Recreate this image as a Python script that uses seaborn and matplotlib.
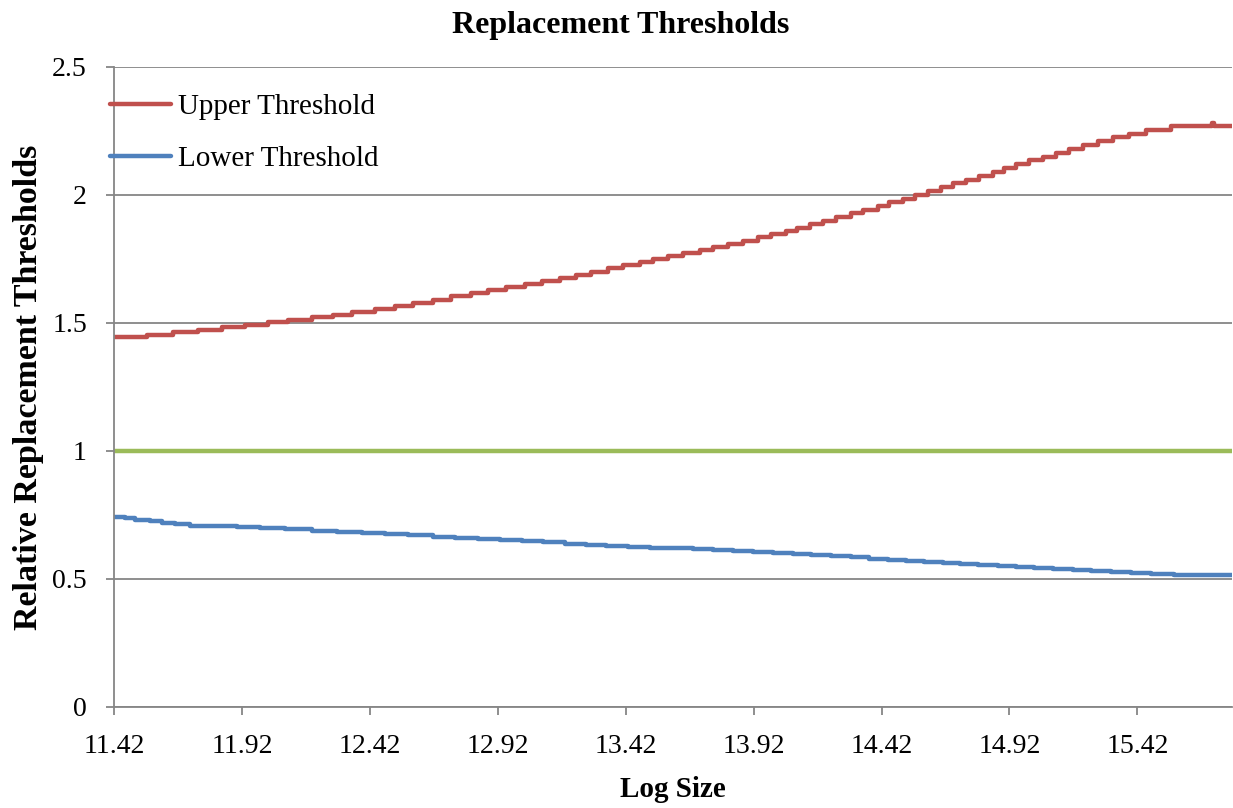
import matplotlib
matplotlib.use("Agg")
import matplotlib.pyplot as plt
import seaborn as sns
import pandas as pd

# Log size at which each threshold level begins, and the level held from there on
upper_log_size = [11.42, 11.548, 11.652, 11.749, 11.841, 11.932, 12.023, 12.101, 12.192, 12.277,
                  12.349, 12.440, 12.518, 12.589, 12.667, 12.739, 12.817, 12.882, 12.954, 13.026,
                  13.091, 13.162, 13.227, 13.286, 13.351, 13.410, 13.475, 13.527, 13.585, 13.644,
                  13.709, 13.761, 13.820, 13.878, 13.937, 13.989, 14.048, 14.088, 14.139, 14.190,
                  14.243, 14.302, 14.347, 14.406, 14.451, 14.503, 14.549, 14.601, 14.653, 14.699,
                  14.751, 14.803, 14.855, 14.900, 14.946, 14.998, 15.050, 15.102, 15.154, 15.206,
                  15.265, 15.323, 15.389, 15.454, 15.552, 15.713, 15.721, 15.79]
upper_threshold = [1.445, 1.455, 1.464, 1.474, 1.483, 1.493, 1.503, 1.512, 1.522, 1.531,
                   1.543, 1.555, 1.567, 1.579, 1.591, 1.604, 1.616, 1.628, 1.640, 1.652,
                   1.664, 1.676, 1.688, 1.700, 1.713, 1.725, 1.737, 1.749, 1.761, 1.773,
                   1.785, 1.797, 1.809, 1.821, 1.834, 1.846, 1.858, 1.872, 1.886, 1.900,
                   1.915, 1.929, 1.943, 1.957, 1.971, 1.986, 2.000, 2.015, 2.030, 2.045,
                   2.060, 2.075, 2.090, 2.105, 2.120, 2.135, 2.150, 2.165, 2.180, 2.195,
                   2.210, 2.225, 2.240, 2.255, 2.270, 2.280, 2.270, 2.270]

lower_log_size = [11.42, 11.463, 11.502, 11.561, 11.606, 11.658, 11.717, 11.899, 11.990, 12.088,
                  12.192, 12.290, 12.388, 12.479, 12.570, 12.667, 12.752, 12.843, 12.928, 13.013,
                  13.097, 13.182, 13.266, 13.345, 13.429, 13.514, 13.596, 13.683, 13.761, 13.839,
                  13.917, 13.995, 14.074, 14.145, 14.224, 14.302, 14.373, 14.445, 14.517, 14.588,
                  14.660, 14.725, 14.796, 14.874, 14.946, 15.018, 15.089, 15.167, 15.239, 15.317,
                  15.395, 15.474, 15.564, 15.79]
lower_threshold = [0.743, 0.737, 0.731, 0.726, 0.720, 0.714, 0.708, 0.703, 0.699, 0.694,
                   0.689, 0.685, 0.680, 0.675, 0.671, 0.666, 0.661, 0.657, 0.652, 0.647,
                   0.643, 0.638, 0.633, 0.629, 0.624, 0.622, 0.620, 0.616, 0.612, 0.608,
                   0.604, 0.600, 0.596, 0.592, 0.588, 0.584, 0.580, 0.576, 0.572, 0.568,
                   0.564, 0.560, 0.556, 0.552, 0.548, 0.544, 0.540, 0.536, 0.532, 0.528,
                   0.524, 0.520, 0.516, 0.516]

baseline_log_size = [11.42, 15.79]
baseline = [1.0, 1.0]

x_ticks = [11.42, 11.92, 12.42, 12.92, 13.42, 13.92, 14.42, 14.92, 15.42]
x_tick_labels = ["11.42", "11.92", "12.42", "12.92", "13.42", "13.92", "14.42", "14.92", "15.42"]
y_ticks = [0, 0.5, 1, 1.5, 2, 2.5]
y_tick_labels = ["0", "0.5", "1", "1.5", "2", "2.5"]

RED = "#C0504D"
BLUE = "#4F81BD"
GREEN = "#9BBB59"
GRAY = "#868686"

sns.set_theme(style="white")
plt.rcParams["font.family"] = ["Liberation Serif", "DejaVu Serif"]
plt.rcParams["text.color"] = "black"
plt.rcParams["axes.labelcolor"] = "black"

upper_df = pd.DataFrame({"log_size": upper_log_size, "value": upper_threshold})
lower_df = pd.DataFrame({"log_size": lower_log_size, "value": lower_threshold})
base_df = pd.DataFrame({"log_size": baseline_log_size, "value": baseline})

fig, ax = plt.subplots(figsize=(12.33, 8.08), dpi=100)
fig.subplots_adjust(left=114 / 1233, right=1232 / 1233, top=1 - 67 / 808, bottom=1 - 707 / 808)

lw = 3.2
sns.lineplot(data=upper_df, x="log_size", y="value", ax=ax, color=RED, lw=lw,
             drawstyle="steps-post", estimator=None, sort=False, label="Upper Threshold")
sns.lineplot(data=lower_df, x="log_size", y="value", ax=ax, color=BLUE, lw=lw,
             drawstyle="steps-post", estimator=None, sort=False, label="Lower Threshold")
sns.lineplot(data=base_df, x="log_size", y="value", ax=ax, color=GREEN, lw=lw,
             estimator=None, sort=False, label="_nolegend_")

ax.set_xlim(11.42, 15.79)
ax.set_ylim(0, 2.5)
ax.set_xticks(x_ticks)
ax.set_xticklabels(x_tick_labels)
ax.set_yticks(y_ticks)
ax.set_yticklabels(y_tick_labels)

ax.yaxis.grid(True, color=GRAY, lw=1.3)
ax.xaxis.grid(False)
ax.set_axisbelow(True)
for side in ("top", "right"):
    ax.spines[side].set_visible(False)
for side in ("left", "bottom"):
    ax.spines[side].set_color(GRAY)
    ax.spines[side].set_linewidth(1.3)

ax.tick_params(axis="both", which="major", direction="out", length=5.5, width=1.3,
               color=GRAY, labelsize=20, labelcolor="black")
ax.tick_params(axis="y", pad=14)
ax.tick_params(axis="x", pad=14)
ax.tick_params(left=True, bottom=True)

fig.suptitle("Replacement Thresholds", x=0.503, y=1 - 25 / 808, va="center",
             fontsize=23, fontweight="bold", color="black")
ax.set_xlabel("Log Size", fontsize=21, fontweight="bold", labelpad=12)
ax.set_ylabel("Relative Replacement Thresholds", fontsize=24.5, fontweight="bold")
ax.yaxis.set_label_coords(-70 / 1118, 0.5)

handles, labels = ax.get_legend_handles_labels()
ax.legend(handles[:2], labels[:2], loc="upper left", bbox_to_anchor=(-0.004, 0.958),
          frameon=False, fontsize=21, handlelength=2.1, handletextpad=0.25,
          borderpad=0, borderaxespad=0, labelspacing=0.88)

fig.savefig("out.png", dpi=100)
